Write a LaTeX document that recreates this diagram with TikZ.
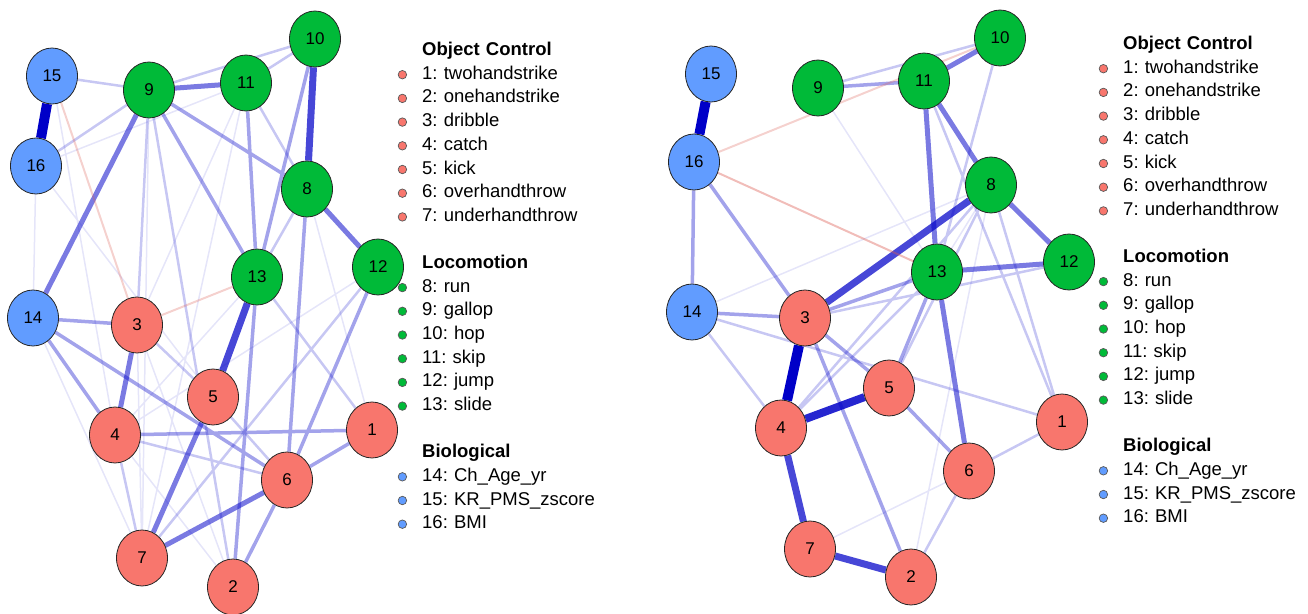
\documentclass[tikz,border=0pt]{standalone}
\usepackage{fontspec}
\setmainfont{Liberation Sans}
\frenchspacing
\usetikzlibrary{positioning,shapes.geometric,backgrounds}
\definecolor{objred}{HTML}{F8766D}
\definecolor{locgreen}{HTML}{00BA38}
\definecolor{biolblue}{HTML}{619CFF}
\definecolor{posblue}{RGB}{0,0,200}
\definecolor{negred}{RGB}{220,90,80}
\newcommand{\legrow}[4]{%
  \node[legtext,below=0pt of #1] (#2) {#4};
  \node[legdot,fill=#3,left=15pt of #2] (#2d) {};}
\newcommand{\netkey}[2]{%
  \node[legtitle,anchor=west] (#1oc) at (#2) {Object Control};
  \legrow{#1oc}{#1k1}{objred}{1: twohandstrike}
  \legrow{#1k1}{#1k2}{objred}{2: onehandstrike}
  \legrow{#1k2}{#1k3}{objred}{3: dribble}
  \legrow{#1k3}{#1k4}{objred}{4: catch}
  \legrow{#1k4}{#1k5}{objred}{5: kick}
  \legrow{#1k5}{#1k6}{objred}{6: overhandthrow}
  \legrow{#1k6}{#1k7}{objred}{7: underhandthrow}
  \node[legtitle,below=23.3pt of #1k7] (#1lo) {Locomotion};
  \legrow{#1lo}{#1k8}{locgreen}{8: run}
  \legrow{#1k8}{#1k9}{locgreen}{9: gallop}
  \legrow{#1k9}{#1k10}{locgreen}{10: hop}
  \legrow{#1k10}{#1k11}{locgreen}{11: skip}
  \legrow{#1k11}{#1k12}{locgreen}{12: jump}
  \legrow{#1k12}{#1k13}{locgreen}{13: slide}
  \node[legtitle,below=23.3pt of #1k13] (#1bi) {Biological};
  \legrow{#1bi}{#1k14}{biolblue}{14: Ch\_Age\_yr}
  \legrow{#1k14}{#1k15}{biolblue}{15: KR\_PMS\_zscore}
  \legrow{#1k15}{#1k16}{biolblue}{16: BMI}}

\begin{document}
\begin{tikzpicture}[x=1pt,y=-1pt,
        netnode/.style={ellipse,draw=black!85,line width=0.8pt,minimum width=51pt,
          minimum height=56pt,inner sep=0pt,font=\fontsize{17}{19}\selectfont},
        oc/.style={netnode,fill=objred},
        loc/.style={netnode,fill=locgreen},
        bio/.style={netnode,fill=biolblue},
        e1/.style={posblue,line width=1.5pt,opacity=.1},
        e2/.style={posblue,line width=2.5pt,opacity=.22},
        e3/.style={posblue,line width=3.5pt,opacity=.36},
        e4/.style={posblue,line width=5pt,opacity=.52},
        e5/.style={posblue,line width=7pt,opacity=.72},
        e6/.style={posblue,line width=10pt},
        neg/.style={negred,line width=2pt,opacity=.28},
        legtext/.style={text width=190pt,align=left,inner sep=0pt,minimum height=23.3pt,
          text height=13pt,text depth=4pt,font=\fontsize{18.5}{22}\selectfont},
        legtitle/.style={legtext,font=\bfseries\fontsize{18.5}{22}\selectfont},
        legdot/.style={circle,draw=black!65,line width=0.7pt,inner sep=0pt,minimum size=8.5pt}]
        \useasboundingbox (0,0) rectangle (1308,613);
        % first network
        \node[oc] (L1) at (372,430) {1};
        \node[oc] (L2) at (233,587) {2};
        \node[oc] (L3) at (137,325) {3};
        \node[oc] (L4) at (115,435) {4};
        \node[oc] (L5) at (213,397) {5};
        \node[oc] (L6) at (287,480) {6};
        \node[oc] (L7) at (142,558) {7};
        \node[loc] (L8) at (307,189) {8};
        \node[loc] (L9) at (149,90) {9};
        \node[loc] (L10) at (315,39) {10};
        \node[loc] (L11) at (246,83) {11};
        \node[loc] (L12) at (378,267) {12};
        \node[loc] (L13) at (257,277) {13};
        \node[bio] (L14) at (33,318) {14};
        \node[bio] (L15) at (52,76) {15};
        \node[bio] (L16) at (36,166) {16};
        \begin{scope}[on background layer]
        \draw[e1] (L16) -- (L14) (L16) -- (L5) (L15) -- (L4) (L16) -- (L11) (L11) -- (L3)
          (L11) -- (L7) (L8) -- (L1) (L13) -- (L4) (L12) -- (L4) (L4) -- (L2) (L3) -- (L7)
          (L3) -- (L2) (L14) -- (L7) (L9) -- (L7);
        \draw[e2] (L3) -- (L5) (L5) -- (L6) (L4) -- (L7) (L4) -- (L6) (L10) -- (L11)
          (L13) -- (L1) (L12) -- (L7) (L11) -- (L8) (L8) -- (L13) (L9) -- (L3) (L9) -- (L2)
          (L16) -- (L9) (L15) -- (L9) (L9) -- (L10);
        \draw[e3] (L6) -- (L2) (L10) -- (L13) (L11) -- (L13) (L9) -- (L13) (L13) -- (L2)
          (L12) -- (L6) (L4) -- (L1) (L6) -- (L1) (L14) -- (L3) (L14) -- (L4) (L14) -- (L6)
          (L8) -- (L6) (L9) -- (L8);
        \draw[e4] (L9) -- (L14) (L9) -- (L11) (L3) -- (L4) (L8) -- (L12) (L5) -- (L7) (L6) -- (L7);
        \draw[e5] (L10) -- (L8) (L13) -- (L5);
        \draw[e6] (L15) -- (L16);
        \draw[neg] (L15) -- (L3) (L3) -- (L13);
        \end{scope}
        % second network
        \node[oc] (R1) at (1062,422) {1};
        \node[oc] (R2) at (911,577) {2};
        \node[oc] (R3) at (805,318) {3};
        \node[oc] (R4) at (781,428) {4};
        \node[oc] (R5) at (889,388) {5};
        \node[oc] (R6) at (969,471) {6};
        \node[oc] (R7) at (810,549) {7};
        \node[loc] (R8) at (991,185) {8};
        \node[loc] (R9) at (818,88) {9};
        \node[loc] (R10) at (1000,38) {10};
        \node[loc] (R11) at (924,81) {11};
        \node[loc] (R12) at (1069,262) {12};
        \node[loc] (R13) at (937,272) {13};
        \node[bio] (R14) at (692,312) {14};
        \node[bio] (R15) at (711,74) {15};
        \node[bio] (R16) at (694,162) {16};
        \begin{scope}[on background layer]
        \draw[e1] (R9) -- (R13) (R14) -- (R8) (R7) -- (R6) (R2) -- (R8) (R8) -- (R13);
        \draw[e2] (R14) -- (R4) (R14) -- (R1) (R10) -- (R13) (R11) -- (R1) (R8) -- (R1)
          (R6) -- (R1) (R4) -- (R13) (R8) -- (R5) (R8) -- (R4) (R12) -- (R3) (R6) -- (R2)
          (R9) -- (R10);
        \draw[e3] (R16) -- (R14) (R16) -- (R3) (R9) -- (R11) (R13) -- (R3) (R3) -- (R5)
          (R5) -- (R6) (R14) -- (R3) (R5) -- (R13) (R3) -- (R2);
        \draw[e4] (R11) -- (R10) (R11) -- (R8) (R11) -- (R13) (R13) -- (R12) (R13) -- (R6)
          (R8) -- (R12);
        \draw[e5] (R4) -- (R7) (R7) -- (R2) (R8) -- (R3);
        \draw[e6] (R15) -- (R16) (R3) -- (R4);
        \draw[e6,line width=8pt,opacity=.85] (R4) -- (R5);
        \draw[neg] (R16) -- (R10);
        \draw[neg,opacity=.4] (R16) -- (R13);
        \end{scope}
        % legends
        \netkey{lk}{422,51}
        \netkey{rk}{1123,45}
      \end{tikzpicture}
\end{document}
